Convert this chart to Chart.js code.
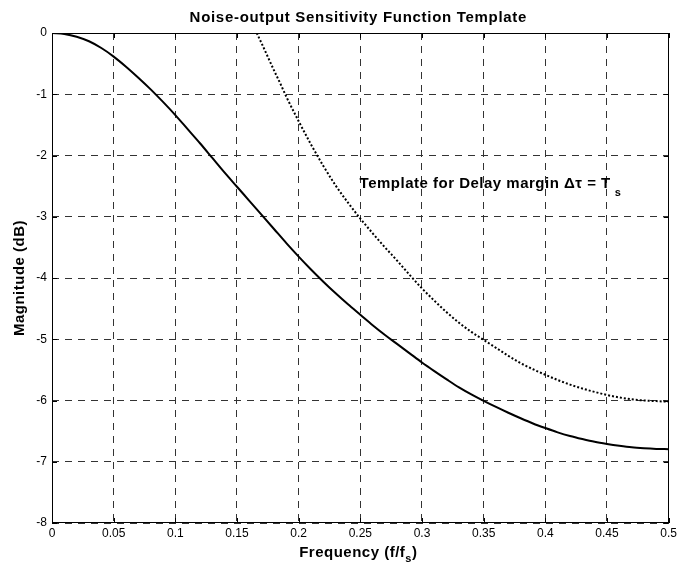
<!DOCTYPE html>
<html>
<head>
<meta charset="utf-8">
<script src="https://cdn.jsdelivr.net/npm/chart.js@4.4.1/dist/chart.umd.min.js"></script>
<style>
  html, body { margin: 0; padding: 0; background: #fff; }
  #wrap { width: 680px; height: 566px; position: relative; }
</style>
</head>
<body>
<div id="wrap"><canvas id="c" width="680" height="566"></canvas></div>
<script>
// ---- data ----
const chartTitle = "Noise-output Sensitivity Function Template";
const xTitleMain = "Frequency (f/f";
const xTitleSub = "s";
const yTitle = "Magnitude (dB)";
const annotationMain = "Template for Delay margin \u0394\u03C4 = T";
const annotationSub = "s";

const xTickValues = [0, 0.05, 0.1, 0.15, 0.2, 0.25, 0.3, 0.35, 0.4, 0.45, 0.5];
const xTickLabels = ["0", "0.05", "0.1", "0.15", "0.2", "0.25", "0.3", "0.35", "0.4", "0.45", "0.5"];
const yTickValues = [-8, -7, -6, -5, -4, -3, -2, -1, 0];
const yTickLabels = ["-8", "-7", "-6", "-5", "-4", "-3", "-2", "-1", "0"];

// solid curve: noise-output sensitivity function
const freqSolid = [0, 0.01, 0.02, 0.03, 0.04, 0.05, 0.06, 0.07, 0.08, 0.09,
  0.10, 0.11, 0.12, 0.13, 0.14, 0.15, 0.16, 0.17, 0.18, 0.19,
  0.20, 0.21, 0.22, 0.23, 0.24, 0.25, 0.26, 0.27, 0.28, 0.29,
  0.30, 0.31, 0.32, 0.33, 0.34, 0.35, 0.36, 0.37, 0.38, 0.39,
  0.40, 0.41, 0.42, 0.43, 0.44, 0.45, 0.46, 0.47, 0.48, 0.49, 0.50];
const magSolid = [0, -0.015, -0.06, -0.135, -0.245, -0.385, -0.55, -0.73, -0.92, -1.125,
  -1.34, -1.57, -1.80, -2.04, -2.28, -2.51, -2.74, -2.97, -3.20, -3.43,
  -3.65, -3.86, -4.06, -4.25, -4.43, -4.60, -4.77, -4.93, -5.08, -5.23,
  -5.38, -5.52, -5.655, -5.785, -5.90, -6.005, -6.105, -6.20, -6.29, -6.375,
  -6.45, -6.52, -6.58, -6.63, -6.675, -6.71, -6.74, -6.765, -6.78, -6.79, -6.795];

// dotted curve: template for delay margin
const freqTemplate = [0.166, 0.17, 0.175, 0.18, 0.185, 0.19, 0.20, 0.21, 0.22, 0.23,
  0.24, 0.25, 0.26, 0.27, 0.28, 0.29, 0.30, 0.31, 0.32, 0.33,
  0.34, 0.35, 0.36, 0.37, 0.38, 0.39, 0.40, 0.41, 0.42, 0.43,
  0.44, 0.45, 0.46, 0.47, 0.48, 0.49, 0.50];
const magTemplate = [0, -0.17, -0.39, -0.61, -0.82, -1.04, -1.44, -1.82, -2.17, -2.49,
  -2.77, -3.03, -3.27, -3.50, -3.72, -3.95, -4.17, -4.37, -4.56, -4.73,
  -4.88, -5.01, -5.14, -5.27, -5.39, -5.49, -5.58, -5.665, -5.74, -5.805,
  -5.86, -5.91, -5.95, -5.98, -6.00, -6.01, -6.02];

// annotation anchor (data coordinates)
const annotationAt = { x: 0.2494, y: -2.53 };

// ---- chart ----
const FONT = "Arial, 'Liberation Sans', Helvetica, sans-serif";

const decorPlugin = {
  id: 'decor',
  afterDraw(chart) {
    const ctx = chart.ctx;
    const a = chart.chartArea;
    const xs = chart.scales.x, ys = chart.scales.y;
    ctx.save();
    // frame
    ctx.strokeStyle = '#000';
    ctx.lineWidth = 1;
    ctx.setLineDash([]);
    ctx.strokeRect(Math.round(a.left) + 0.5, Math.round(a.top) + 0.5,
      Math.round(a.right - a.left) - 1, Math.round(a.bottom - a.top) - 1);
    // inward tick marks
    const tl = 5;
    ctx.beginPath();
    xTickValues.forEach(v => {
      const px = Math.round(xs.getPixelForValue(v)) + 0.5;
      ctx.moveTo(px, a.bottom); ctx.lineTo(px, a.bottom - tl);
      ctx.moveTo(px, a.top); ctx.lineTo(px, a.top + tl);
    });
    yTickValues.forEach(v => {
      const py = Math.round(ys.getPixelForValue(v)) + 0.5;
      ctx.moveTo(a.left, py); ctx.lineTo(a.left + tl, py);
      ctx.moveTo(a.right, py); ctx.lineTo(a.right - tl, py);
    });
    ctx.stroke();

    ctx.fillStyle = '#000';
    const bold = "bold 15px " + FONT;
    const subFont = "bold 11px " + FONT;
    if ('letterSpacing' in ctx) ctx.letterSpacing = '0.7px';

    // title
    ctx.font = bold;
    ctx.textAlign = 'center';
    ctx.textBaseline = 'alphabetic';
    ctx.fillText(chartTitle, (a.left + a.right) / 2 - 2, 22);

    if ('letterSpacing' in ctx) ctx.letterSpacing = '0.5px';
    // x axis title with subscript
    ctx.textAlign = 'left';
    ctx.font = bold;
    const w1 = ctx.measureText(xTitleMain).width;
    ctx.font = subFont;
    const w2 = ctx.measureText(xTitleSub).width;
    ctx.font = bold;
    const w3 = ctx.measureText(")").width;
    let x0 = (a.left + a.right) / 2 - 2 - (w1 + w2 + w3) / 2;
    ctx.fillText(xTitleMain, x0, 557);
    ctx.font = subFont;
    ctx.fillText(xTitleSub, x0 + w1, 562);
    ctx.font = bold;
    ctx.fillText(")", x0 + w1 + w2, 557);

    // y axis title
    ctx.save();
    ctx.translate(24, (a.top + a.bottom) / 2);
    ctx.rotate(-Math.PI / 2);
    ctx.textAlign = 'center';
    ctx.textBaseline = 'alphabetic';
    ctx.font = bold;
    ctx.fillText(yTitle, 0, 0);
    ctx.restore();

    // annotation
    const ax = xs.getPixelForValue(annotationAt.x);
    const ay = ys.getPixelForValue(annotationAt.y);
    ctx.textAlign = 'left';
    ctx.font = bold;
    ctx.fillText(annotationMain, ax, ay);
    const aw = ctx.measureText(annotationMain).width;
    ctx.font = subFont;
    ctx.fillText(annotationSub, ax + aw + 4, ay + 8);
    ctx.restore();
  }
};

new Chart(document.getElementById('c'), {
  type: 'scatter',
  data: {
    datasets: [
      {
        label: 'Sensitivity',
        data: freqSolid.map((f, i) => ({ x: f, y: magSolid[i] })),
        showLine: true,
        borderColor: '#000',
        borderWidth: 2,
        pointRadius: 0,
        cubicInterpolationMode: 'monotone',
        fill: false
      },
      {
        label: 'Template',
        data: freqTemplate.map((f, i) => ({ x: f, y: magTemplate[i] })),
        showLine: true,
        borderColor: '#000',
        borderWidth: 2,
        borderDash: [2, 2],
        pointRadius: 0,
        cubicInterpolationMode: 'monotone',
        fill: false
      }
    ]
  },
  options: {
    responsive: false,
    animation: false,
    events: [],
    layout: { padding: { top: 33, right: 10, left: 0, bottom: 0 } },
    plugins: {
      legend: { display: false },
      title: { display: false },
      tooltip: { enabled: false }
    },
    scales: {
      x: {
        type: 'linear',
        min: 0, max: 0.5,
        afterBuildTicks: s => { s.ticks = xTickValues.map(v => ({ value: v })); },
        afterFit: s => { s.height = 43; },
        ticks: {
          callback: (v) => xTickLabels[xTickValues.indexOf(v)] ?? String(v),
          color: '#000',
          font: { family: FONT, size: 12 },
          padding: 3,
          maxRotation: 0,
          autoSkip: false
        },
        grid: {
          color: '#333',
          lineWidth: 1,
          drawTicks: false
        },
        border: { display: false, dash: [7, 6] }
      },
      y: {
        type: 'linear',
        min: -8, max: 0,
        afterBuildTicks: s => { s.ticks = yTickValues.map(v => ({ value: v })); },
        afterFit: s => { s.width = 52; },
        ticks: {
          callback: (v) => yTickLabels[yTickValues.indexOf(v)] ?? String(v),
          color: '#000',
          font: { family: FONT, size: 12 },
          padding: 5,
          autoSkip: false
        },
        grid: {
          color: '#333',
          lineWidth: 1,
          drawTicks: false
        },
        border: { display: false, dash: [7, 6] }
      }
    }
  },
  plugins: [decorPlugin]
});
</script>
</body>
</html>
